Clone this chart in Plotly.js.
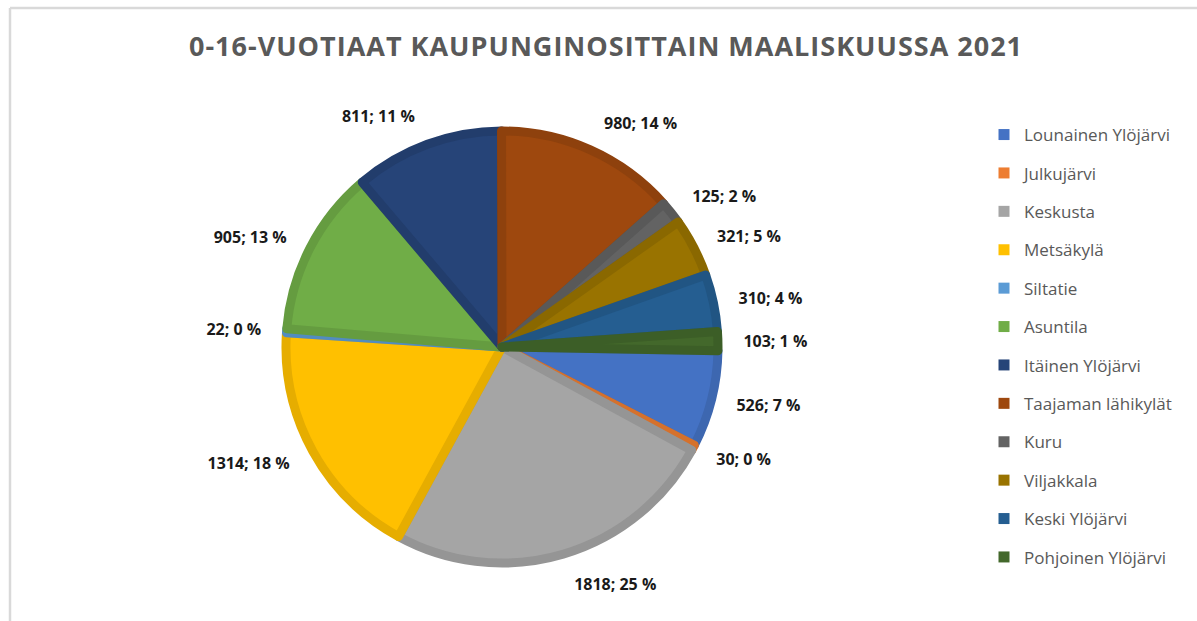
<!DOCTYPE html>
<html>
<head>
<meta charset="utf-8">
<script src="https://cdn.plot.ly/plotly-3.0.1.min.js"></script>
<style>
html, body { margin: 0; padding: 0; background: #fff; }
#chart { width: 1197px; height: 621px; }
#chart .gtitle { letter-spacing: 1px; }
</style>
</head>
<body>
<div id="chart"></div>
<script>
// Data
const labels = ["Lounainen Ylöjärvi", "Julkujärvi", "Keskusta", "Metsäkylä", "Siltatie", "Asuntila",
  "Itäinen Ylöjärvi", "Taajaman lähikylät", "Kuru", "Viljakkala", "Keski Ylöjärvi", "Pohjoinen Ylöjärvi"];
const values = [526, 30, 1818, 1314, 22, 905, 811, 980, 125, 321, 310, 103];
const percents = [7, 0, 25, 18, 0, 13, 11, 14, 2, 5, 4, 1];

// Styles
const colors = ["#4472C4", "#ED7D31", "#A5A5A5", "#FFC000", "#5B9BD5", "#70AD47",
  "#264478", "#9E480E", "#636363", "#997300", "#255E91", "#43682B"];

function darken(hex, f) {
  const n = parseInt(hex.slice(1), 16);
  const r = Math.round(((n >> 16) & 255) * f);
  const g = Math.round(((n >> 8) & 255) * f);
  const b = Math.round((n & 255) * f);
  return "rgb(" + r + "," + g + "," + b + ")";
}
const edgeColors = colors.map(c => darken(c, 0.9));
const textLabels = values.map((v, i) => v + "; " + percents[i] + " %");

const W = 1197, H = 621;
const cx = 502, cy = 347, r = 216, rLab = 236;

function domainFor(rad) {
  return {
    x: [(cx - rad) / W, (cx + rad) / W],
    y: [1 - (cy + rad) / H, 1 - (cy - rad) / H]
  };
}

const pie = {
  type: "pie",
  labels: labels,
  values: values,
  textinfo: "none",
  sort: false,
  direction: "clockwise",
  rotation: 91,
  showlegend: false,
  hoverinfo: "label+value+percent",
  marker: { colors: colors, line: { color: edgeColors, width: 9 } },
  automargin: false,
  domain: domainFor(r)
};

// Transparent companion pie (same data) that carries the outside labels a bit further out
const labelPie = {
  type: "pie",
  labels: labels,
  values: values,
  text: textLabels,
  textinfo: "text",
  textposition: "outside",
  sort: false,
  direction: "clockwise",
  rotation: 91,
  showlegend: false,
  hoverinfo: "skip",
  marker: { colors: labels.map(() => "rgba(0,0,0,0)"), line: { width: 0 } },
  outsidetextfont: { family: "Open Sans, sans-serif", size: 16, color: "#1a1a1a", weight: "bold" },
  textfont: { family: "Open Sans, sans-serif", size: 16, color: "#1a1a1a", weight: "bold" },
  automargin: false,
  domain: domainFor(rLab)
};

// Legend entries (one per category, same colors)
const legendTraces = labels.map((lab, i) => ({
  type: "scatter",
  mode: "markers",
  x: [null], y: [null],
  name: lab,
  legendgroup: "g" + i,
  marker: { symbol: "square", size: 11, color: colors[i] },
  hoverinfo: "skip",
  showlegend: true
}));

const layout = {
  width: W, height: H,
  margin: { l: 0, r: 0, t: 0, b: 0 },
  paper_bgcolor: "#ffffff",
  plot_bgcolor: "rgba(0,0,0,0)",
  title: {
    text: "<b>0-16-VUOTIAAT KAUPUNGINOSITTAIN MAALISKUUSSA 2021</b>",
    font: { family: "Open Sans, sans-serif", size: 27, color: "#595959" },
    x: 606 / W, xanchor: "center",
    y: 1 - 47 / H, yanchor: "middle"
  },
  xaxis: { visible: false, domain: [0, 0.01] },
  yaxis: { visible: false, domain: [0, 0.01] },
  showlegend: true,
  legend: {
    x: 984 / W, xanchor: "left",
    y: 1 - 117 / H, yanchor: "top",
    font: { family: "Open Sans, sans-serif", size: 17, color: "#595959" },
    tracegroupgap: 13.3,
    itemwidth: 30,
    bgcolor: "rgba(0,0,0,0)"
  },
  shapes: [
    { type: "line", xref: "paper", yref: "paper", x0: 10 / W, x1: 1.01, y0: 1 - 8 / H, y1: 1 - 8 / H,
      line: { color: "#D9D9D9", width: 2.5 } },
    { type: "line", xref: "paper", yref: "paper", x0: 10 / W, x1: 10 / W, y0: 1 - 8 / H, y1: -0.01,
      line: { color: "#D9D9D9", width: 2.5 } }
  ]
};

Plotly.newPlot("chart", [pie, labelPie].concat(legendTraces), layout, { displayModeBar: false, staticPlot: true });
</script>
</body>
</html>
